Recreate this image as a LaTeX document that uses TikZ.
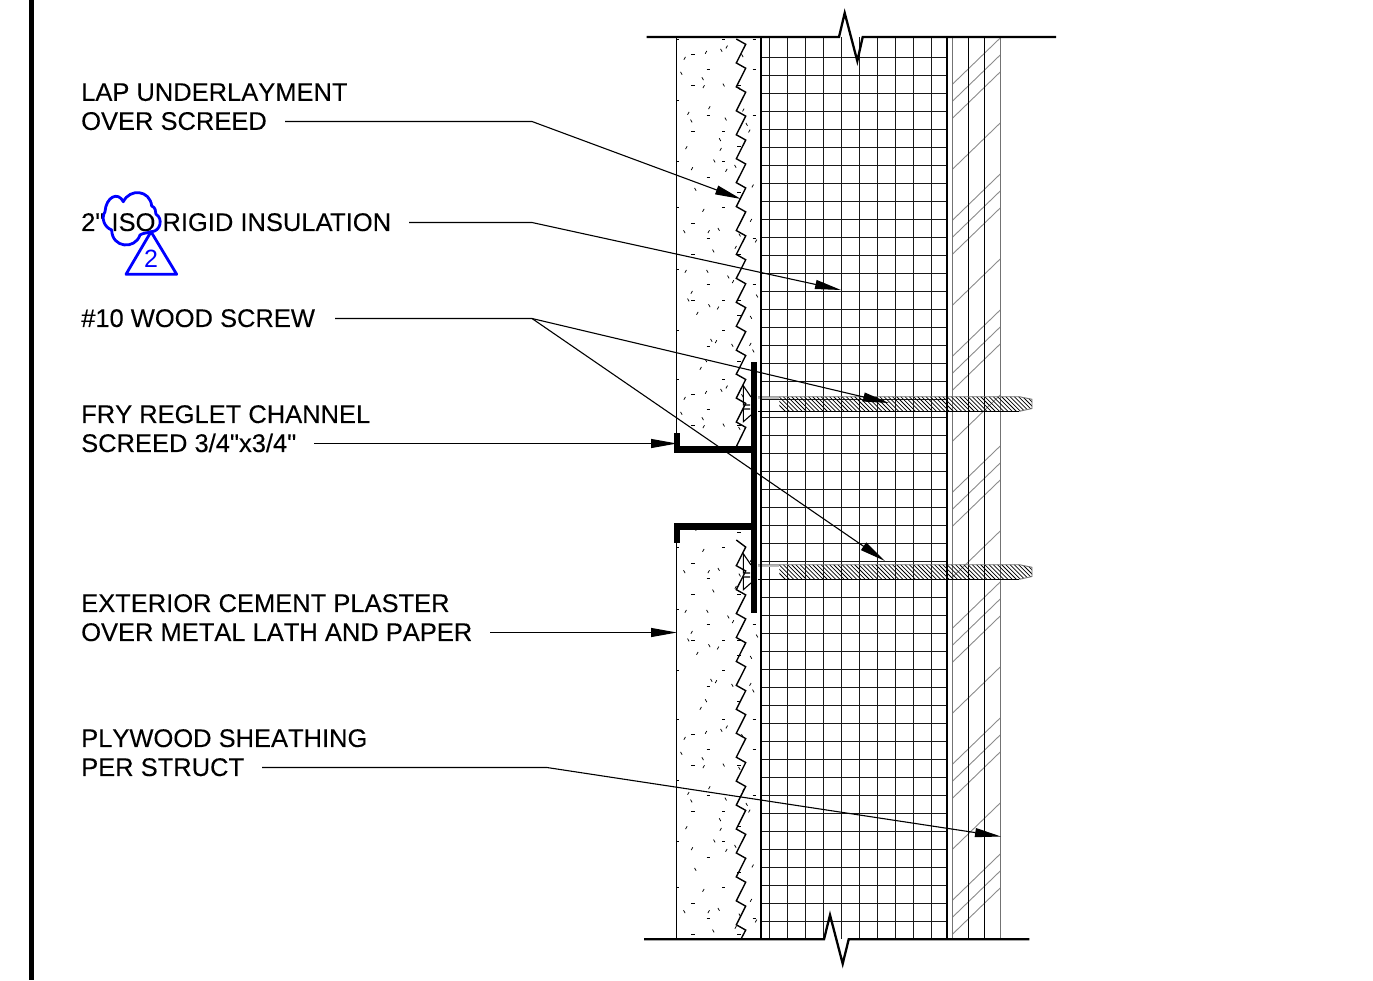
\documentclass[tikz,border=0pt]{standalone}
\usepackage{fontspec}
\newfontfamily\labelfont[Kerning=Off,FakeBold=0.15]{Liberation Sans}
\newfontfamily\numfont[Kerning=Off]{Liberation Sans}
\usetikzlibrary{arrows.meta}
\definecolor{revblue}{RGB}{0,0,255}
\tikzset{
  x=1pt,y=-1pt,
  label/.style={anchor=west,align=left,inner sep=0pt,font=\labelfont\fontsize{25.5}{29}\selectfont,text=black},
  leader/.style={line width=1.1pt,draw=black,-{Triangle[length=26pt,width=9pt]}},
  heavy/.style={line width=2.3pt,draw=black,line join=miter},
  gridline/.style={line width=1.1pt,draw=black!90},
  layer/.style={line width=1.2pt,draw=black},
  lightlayer/.style={line width=1.1pt,draw=black!55},
  diag/.style={line width=0.9pt,draw=black!45},
  speck/.style={line width=0.75pt,draw=black},
  zig/.style={line width=1.4pt,draw=black,line join=miter},
  channel/.style={line width=6.4pt,draw=black,line cap=butt,line join=miter},
  hatchline/.style={line width=0.75pt,draw=black},
  rev/.style={line width=2.8pt,draw=revblue,line join=round,line cap=round},
}
\newcommand{\screwbody}[1]{%
  \begin{scope}[yshift=-#1pt]
    \begin{scope}
      \clip (779.3,396.7) -- (1019.3,396.7) -- (1032,399.3) -- (1032,408.5) -- (1019.3,411.3) -- (779.3,411.3) -- cycle;
      \foreach \hx in {770,774.2,...,1040} {\draw[hatchline] (\hx,396) -- (\hx+16,412);}
    \end{scope}
    \draw[line width=2pt,draw=black!25] (758,398) -- (779.3,398);
    \draw[line width=0.9pt,draw=black!55] (758,396.7) -- (1019.3,396.7) -- (1032,399.3) -- (1032,408.5) -- (1019.3,411.3);
    \draw[line width=1.1pt,draw=black] (758,411.3) -- (1019.3,411.3);
    \draw[zig,line width=1.1pt] (751,397) -- (743.3,385.7) -- (743.3,405) -- (750,405) (743.3,409) -- (750,409) (743.3,409) -- (743.3,421.7) -- (751,415);
  \end{scope}
}
\begin{document}
\begin{tikzpicture}
\useasboundingbox (0,0) rectangle (1373,980);
\fill[white] (0,0) rectangle (1373,980);
% left border
\fill[black] (29,0) rectangle (34.3,980);

% speckles of the plaster
\begin{scope}
\clip (677,38) rectangle (760,446) (677,530) rectangle (760,939);
\foreach \off in {0,340,680} {
  \foreach \zx/\zy in {69/57,115/104,69/150,115/242,69/288,161/288,161/380,115/426,253/104,253/242,207/334,207/472,207/150,253/12,161/12,23/196,23/380,23/12,
     161/518,69/565,115/610,69/657,115/749,69/795,161/795,161/887,115/933,253/610,253/749,207/657,207/795,207/841,207/979,23/703,23/887,23/518}
    {\draw[speck] ({670+\zx/3-1.6},{35+\zy/3+\off}) -- ++(3.2,0);}
  \foreach \zx/\zy in {44/70,108/52,170/36,118/218,55/235,101/155,238/288,152/343,49/338,66/401,169/406,248/453,220/225,
     100/526,243/556,116/590,258/618,197/637,47/709,189/740,65/772,144/819,82/835,138/920,241/928,92/1000}
    {\draw[speck] ({670+\zx/3-0.8},{35+\zy/3+1.4+\off}) -- ++(1.6,-2.8);}
  \foreach \zx/\zy in {34/115,98/131,154/46,161/150,64/258,167/252,150/314,230/268,133/378,196/394,76/463,217/62,208/160,
     43/590,146/583,209/600,130/648,112/709,175/726,55/795,118/812,243/847,261/783,124/916,187/931,250/948,108/977}
    {\draw[speck] ({670+\zx/3-0.8},{35+\zy/3-1.4+\off}) -- ++(1.6,2.8);}
}
\end{scope}

% plaster left edge
\draw[layer] (676.7,37) -- (676.7,433);
\draw[layer] (676.7,542) -- (676.7,939);

% zigzag lath
\draw[zig] (736.3,39)
  \foreach \k in {0,...,16} { -- ({745.7},{44.3+23.94*\k}) \ifnum\k<16 -- ({736.3},{39+23.94*(\k+1)})\fi } -- (736.6,446);
\draw[zig] (736.3,540)
  \foreach \k in {21,...,37} { -- ({745.7},{44.3+23.94*\k}) \ifnum\k<37 -- ({736.3},{39+23.94*(\k+1)})\fi } -- (741,939);

% insulation grid
\foreach \gy in {0,...,48} {\draw[gridline] (760.7,{57.7+18*\gy}) -- (946.7,{57.7+18*\gy});}
\foreach \gx in {0,...,9} {\draw[gridline] ({769.3+18*\gx},37) -- ({769.3+18*\gx},939);}

% sheathing diagonals
\begin{scope}
\clip (952.7,37) rectangle (1000.7,939);
\foreach \per in {-1,0,...,6} {
  \foreach \ofs in {0,17,34,85}
    {\draw[diag] (952.7,{84+136*\per+\ofs}) -- ++(48,-46.5);}
}
\end{scope}
\draw[lightlayer] (952.7,37) -- (952.7,939);
\draw[layer] (968.7,37) -- (968.7,939);
\draw[layer] (984.7,37) -- (984.7,939);
\draw[lightlayer] (1000.7,37) -- (1000.7,939);

% screws
\screwbody{0}
\screwbody{168}

% heavy verticals
\draw[line width=2.2pt] (760.7,37) -- (760.7,939);
\draw[line width=2.2pt] (946.7,37) -- (946.7,939);

% channel
\draw[channel] (677,433) -- (677,449.5) -- (754,449.5);
\draw[channel] (677,542.7) -- (677,526.5) -- (754,526.5);
\draw[channel] (754,362.3) -- (754,613.3);

% top and bottom break lines
\draw[heavy] (646.7,37) -- (839,37) -- (844.7,13) -- (857.3,61) -- (862.7,37) -- (1056,37);
\draw[heavy] (644,939.3) -- (824,939.3) -- (830,915) -- (842.7,963.7) -- (848.7,939.3) -- (1029.3,939.3);

% labels
\node[label] (lap) at (81,106.7) {LAP UNDERLAYMENT\\OVER SCREED};
\node[label] (iso) at (81,222.2) {2" ISO RIGID INSULA\kern-2.4pt TION};
\node[label] (wood) at (81,318.2) {\#10 WOOD SCREW};
\node[label] (fry) at (81,428.7) {FRY REGLET CHANNEL\\SCREED 3/4"x3/4"};
\node[label] (ext) at (81,617.7) {EXTERIOR CEMENT PLASTER\\OVER METAL LATH AND PAPER};
\node[label] (ply) at (81,752.7) {PLYWOOD SHEATHING\\PER STRUCT};

% leader anchors
\coordinate (lapS) at (285,121.5); \coordinate (lapB) at (532,121.5); \coordinate (lapE) at (741,199);
\coordinate (isoS) at (409,222.5); \coordinate (isoB) at (532,222.5); \coordinate (isoE) at (841,290);
\coordinate (woodS) at (335,318.5); \coordinate (woodB) at (532,318.5); \coordinate (woodE) at (889,403); \coordinate (woodF) at (885,561);
\coordinate (fryS) at (314,443.5); \coordinate (fryE) at (677,443.5);
\coordinate (extS) at (490,632.5); \coordinate (extE) at (677,632.5);
\coordinate (plyS) at (262,767.5); \coordinate (plyB) at (547,767.5); \coordinate (plyE) at (1001,836.5);

\draw[leader] (lapS) -- (lapB) -- (lapE);
\draw[leader] (isoS) -- (isoB) -- (isoE);
\draw[leader] (woodS) -- (woodB) -- (woodE);
\draw[leader] (woodB) -- (woodF);
\draw[leader] (fryS) -- (fryE);
\draw[leader] (extS) -- (extE);
\draw[leader] (plyS) -- (plyB) -- (plyE);

% revision cloud and triangle
\draw[rev] (105,211.7) .. controls (106,197) and (118,191) .. (123.3,201.7)
  .. controls (130,188) and (150,190) .. (151.7,206)
  .. controls (155,207) and (156,211) .. (156,214.3)
  .. controls (163,218) and (161,231) .. (151.7,231.7)
  .. controls (147,233) and (143,233) .. (140,235)
  .. controls (135,250) and (112,248) .. (111.7,230)
  .. controls (104,227) and (101,218) .. (105,211.7);
\draw[rev] (151,231.7) -- (176.7,274.3) -- (126,274.3) -- cycle;
\node[inner sep=0pt,text=revblue,font=\numfont\fontsize{25}{25}\selectfont] (revnum) at (151,258.5) {2};
\end{tikzpicture}
\end{document}
